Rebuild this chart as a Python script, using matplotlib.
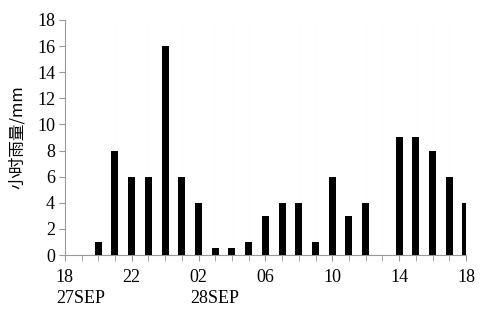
import matplotlib
matplotlib.use('Agg')
import matplotlib.pyplot as plt

# hourly rainfall, 27 SEP 18h -> 28 SEP 18h
hours = list(range(25))
rain = [0, 0, 1, 8, 6, 6, 16, 6, 4, 0.5, 0.5, 1, 3, 4, 4, 1, 6, 3, 4, 0, 9, 9, 8, 6, 4]
tick_pos = [0, 4, 8, 12, 16, 20, 24]
tick_labels = ['18', '22', '02', '06', '10', '14', '18']
date_labels = ['27SEP', '28SEP']
date_pos = [0, 8]

serif = ['Liberation Serif', 'DejaVu Serif']
plt.rcParams['font.family'] = serif

fig = plt.figure(figsize=(4.91, 3.11), dpi=100)
ax = fig.add_axes([0.132, 0.18, 0.817, 0.756])

ax.bar(hours, rain, width=0.42, color='black', zorder=3)

ax.set_xlim(0, 24)
ax.set_ylim(0, 18)
ax.set_yticks(range(0, 19, 2))
ax.set_xticks(tick_pos)
ax.set_xticklabels(tick_labels)
ax.set_xticks(hours, minor=True)
ax.tick_params(axis='both', labelsize=13, color='#999999', length=4, width=0.8, pad=3)
ax.tick_params(axis='x', which='minor', length=4, color='#999999')
ax.tick_params(axis='x', pad=6)

for side in ['top', 'right']:
    ax.spines[side].set_visible(False)
for side in ['left', 'bottom']:
    ax.spines[side].set_color('#999999')
    ax.spines[side].set_linewidth(0.8)

ax.grid(axis='x', which='minor', color='#f7f7f7', linestyle=':', linewidth=0.5, zorder=0)

ax.set_ylabel('小时雨量/mm', fontsize=12, family=['Noto Sans CJK SC', 'DejaVu Sans'], labelpad=8)

for d, p in zip(date_labels, date_pos):
    ax.annotate(d, xy=(p, 0), xycoords='data', xytext=(-6, -31.5), textcoords='offset points',
                fontsize=13, ha='left', va='center', annotation_clip=False)

fig.savefig('out.png', dpi=100)
